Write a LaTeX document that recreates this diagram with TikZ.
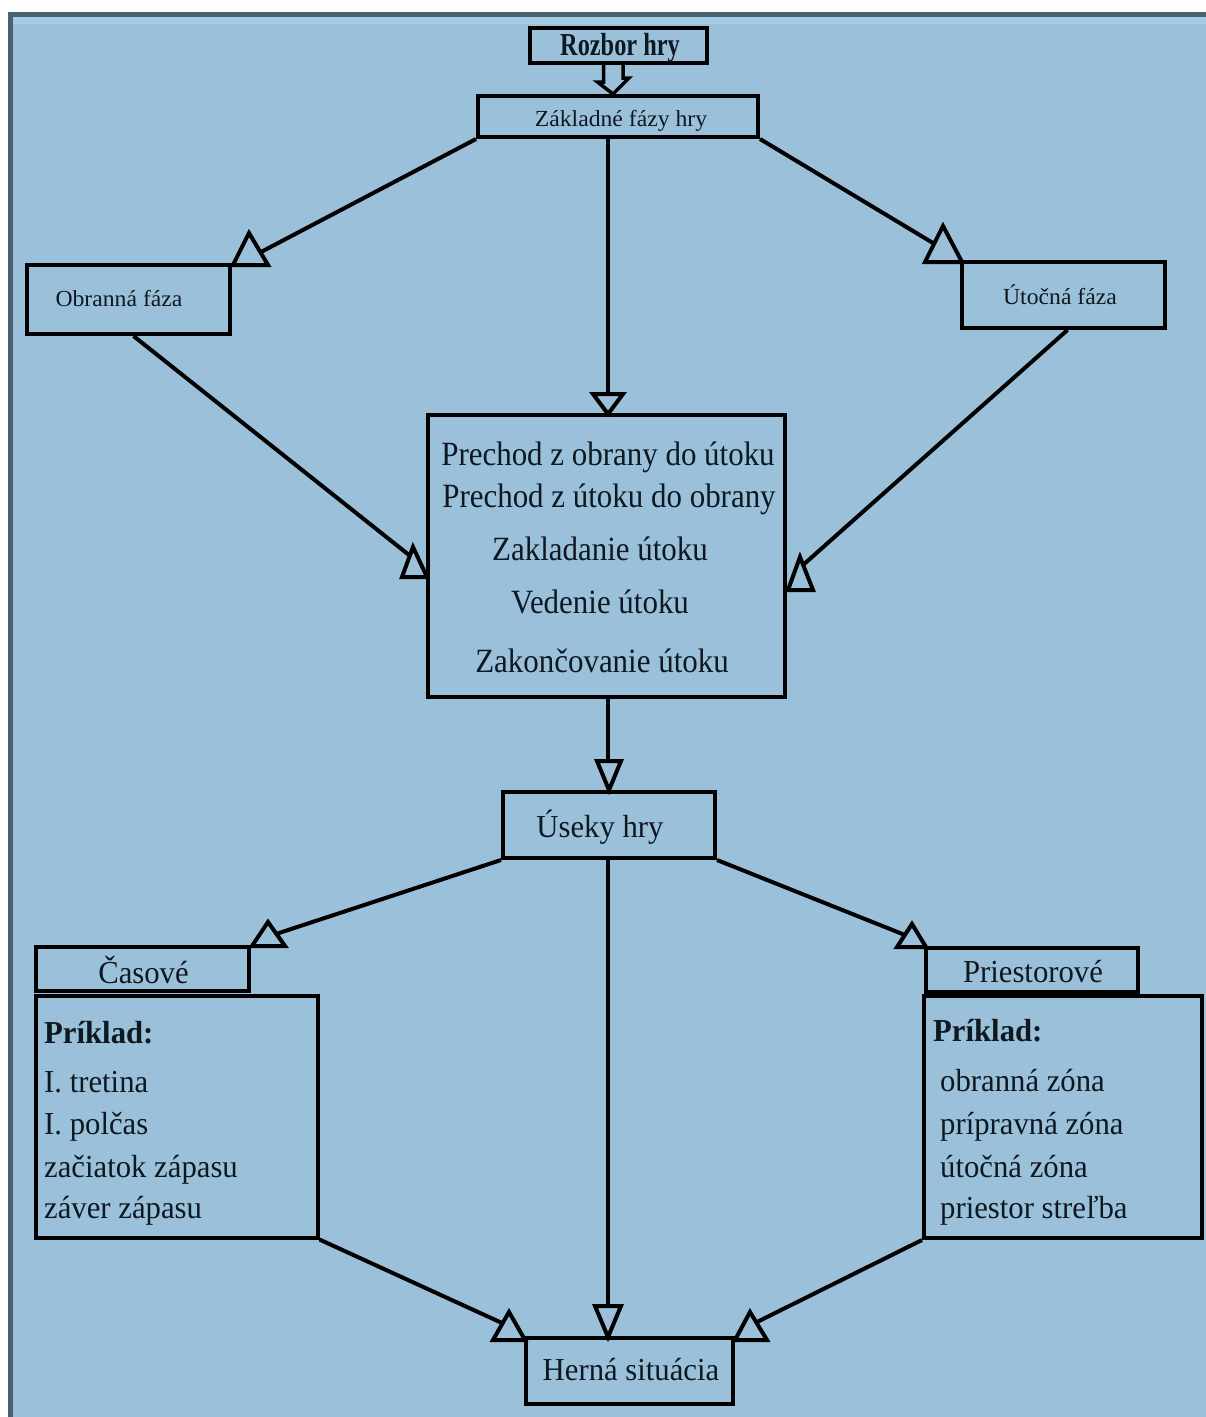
\documentclass[tikz,border=0pt]{standalone}
\usepackage{fontspec}
\setmainfont{Liberation Serif}
\usepackage{graphicx}
\usetikzlibrary{calc}
\definecolor{bgblue}{HTML}{9BC1DA}
\definecolor{bglight}{HTML}{A3CBE2}
\definecolor{framec}{HTML}{4A6170}
\definecolor{ink}{HTML}{0E1820}
\newcommand\upT[1]{\scalebox{1.03}[1]{\fontsize{23}{27}\selectfont #1}}
\newcommand\midT[1]{\scalebox{0.91}[1]{\fontsize{34}{40}\selectfont #1}}
\newcommand\lowT[1]{\scalebox{0.96}[1]{\fontsize{32}{38}\selectfont #1}}
\newcommand\topT[1]{\scalebox{0.76}[1]{\fontsize{32}{38}\selectfont\bfseries #1}}
\begin{document}
\begin{tikzpicture}[x=1pt,y=-1pt,
  box/.style n args={2}{draw=black, line width=4pt, minimum width=#1pt, minimum height=#2pt, inner sep=0pt},
  lbl/.style={inner sep=0pt, text=ink},
  conn/.style={draw=black, line width=4pt},
  tri/.style={draw=black, line width=4pt, line join=miter}]
\useasboundingbox (0,0) rectangle (1206,1417);
\fill[white] (0,0) rectangle (1206,1417);
\fill[bgblue] (8,12) rectangle (1206,1417);
\fill[bglight] (13,16) rectangle (1206,24);
\fill[framec] (8,12) rectangle (1206,16.5);
\fill[framec] (8,12) rectangle (13,1417);

% boxes
\node[box={177}{35}] (rozbor) at (618.5,45.5) {};
\node[box={280}{41}] (zakl) at (618,116.5) {};
\node[box={203}{69}] (obr) at (128.5,299.5) {};
\node[box={203}{66}] (uto) at (1063.5,295) {};
\node[box={357}{282}] (mid) at (606.5,556) {};
\node[box={212}{66}] (useky) at (609,825) {};
\node[box={213}{44}] (casH) at (142.5,968.5) {};
\node[box={282}{242}] (casB) at (176.5,1116.5) {};
\node[box={212}{44}] (priH) at (1031.5,970) {};
\node[box={278}{242}] (priB) at (1063,1117) {};
\node[box={207}{66}] (herna) at (629.5,1371) {};

% texts
\node[lbl, anchor=base] (tRoz) at (620,55) {\topT{Rozbor hry}};
\node[lbl, anchor=base] (tZak) at (621,126) {\upT{Základné fázy hry}};
\node[lbl, anchor=base] (tObr) at (119,306) {\upT{Obranná fáza}};
\node[lbl, anchor=base] (tUto) at (1060,304) {\upT{Útočná fáza}};
\node[lbl, anchor=base] (m1) at (608,465) {\midT{Prechod z obrany do útoku}};
\node[lbl, anchor=base] (m2) at (609,507) {\midT{Prechod z útoku do obrany}};
\node[lbl, anchor=base] (m3) at (600,560) {\midT{Zakladanie útoku}};
\node[lbl, anchor=base] (m4) at (600,613) {\midT{Vedenie útoku}};
\node[lbl, anchor=base] (m5) at (602,672) {\midT{Zakončovanie útoku}};
\node[lbl, anchor=base] (tUse) at (600,837) {\lowT{Úseky hry}};
\node[lbl, anchor=base] (tCas) at (143.5,983) {\lowT{Časové}};
\node[lbl, anchor=base west] (c0) at (44,1043) {\lowT{\bfseries Príklad:}};
\node[lbl, anchor=base west] (c1) at (44,1092) {\lowT{I. tretina}};
\node[lbl, anchor=base west] (c2) at (44,1134) {\lowT{I. polčas}};
\node[lbl, anchor=base west] (c3) at (44,1177) {\lowT{začiatok zápasu}};
\node[lbl, anchor=base west] (c4) at (44,1218) {\lowT{záver zápasu}};
\node[lbl, anchor=base] (tPri) at (1033,982) {\lowT{Priestorové}};
\node[lbl, anchor=base west] (p0) at (933,1041) {\lowT{\bfseries Príklad:}};
\node[lbl, anchor=base west] (p1) at (940,1091) {\lowT{obranná zóna}};
\node[lbl, anchor=base west] (p2) at (940,1134) {\lowT{prípravná zóna}};
\node[lbl, anchor=base west] (p3) at (940,1177) {\lowT{útočná zóna}};
\node[lbl, anchor=base west] (p4) at (940,1218) {\lowT{priestor streľba}};
\node[lbl, anchor=base] (tHer) at (631,1380) {\lowT{Herná situácia}};

% hollow double arrow Rozbor -> Zakladne
\draw[line width=3.5pt, line join=miter] ($(rozbor.south)+(-15,0)$) -- ++(0,17) -- ++(-6,0) -- ($(zakl.north)+(-5,0)$) -- ++(16,-16) -- ++(-6,0) -- ++(0,-17);

% connector end coordinates
\coordinate (e1) at (261,252);
\coordinate (e2) at (933,243);
\coordinate (e3) at (608,393);
\coordinate (e4) at (409,555);
\coordinate (e5) at (803,565);
\coordinate (e6) at (608,760);
\coordinate (e7) at (276,934);
\coordinate (e8) at (905,935);
\coordinate (e9) at (608,1305);
\coordinate (e10) at (502,1323);
\coordinate (e11) at (757,1322);

% connectors
\draw[conn] (zakl.south west) -- (e1);
\draw[conn] (zakl.south east) -- (e2);
\draw[conn] (zakl.south -| e3) -- (e3);
\draw[conn] ($(obr.south)+(5,0)$) -- (e4);
\draw[conn] ($(uto.south)+(4,0)$) -- (e5);
\draw[conn] (mid.south -| e6) -- (e6);
\draw[conn] (useky.south west) -- (e7);
\draw[conn] (useky.south east) -- (e8);
\draw[conn] (useky.south -| e9) -- (e9);
\draw[conn] (casB.south east) -- (e10);
\draw[conn] (priB.south west) -- (e11);

% open triangle heads
\draw[tri] (233,265) -- (249,233) -- (268,265) -- cycle;
\draw[tri] (925,262) -- (943,226) -- (962,262) -- cycle;
\draw[tri] (593,394) -- (623,394) -- (608,414) -- cycle;
\draw[tri] (402,577) -- (413,547) -- (427,577) -- cycle;
\draw[tri] (788,590) -- (800,557) -- (813,590) -- cycle;
\draw[tri] (597,761) -- (621,761) -- (609,790) -- cycle;
\draw[tri] (252,946) -- (268,922) -- (285,946) -- cycle;
\draw[tri] (897,947) -- (912,924) -- (926,947) -- cycle;
\draw[tri] (595,1306) -- (621,1306) -- (608,1337) -- cycle;
\draw[tri] (493,1340) -- (509,1312) -- (525,1340) -- cycle;
\draw[tri] (735,1340) -- (750,1312) -- (767,1340) -- cycle;
\end{tikzpicture}
\end{document}
